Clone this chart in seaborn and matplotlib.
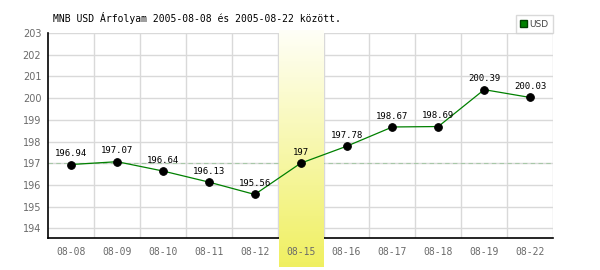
import matplotlib
matplotlib.use("Agg")
import matplotlib.pyplot as plt
import seaborn as sns
import numpy as np
import pandas as pd
from matplotlib.patches import Patch

dates = ["08-08", "08-09", "08-10", "08-11", "08-12", "08-15",
         "08-16", "08-17", "08-18", "08-19", "08-22"]
usd = [196.94, 197.07, 196.64, 196.13, 195.56, 197.0,
       197.78, 198.67, 198.69, 200.39, 200.03]
value_labels = ["196.94", "197.07", "196.64", "196.13", "195.56", "197",
                "197.78", "198.67", "198.69", "200.39", "200.03"]
yticks = [194, 195, 196, 197, 198, 199, 200, 201, 202, 203]
reference_level = 197
highlight = "08-15"
title = "MNB USD Árfolyam 2005-08-08 és 2005-08-22 között."

sns.set_style("white")
plt.rcParams['font.family'] = ['DejaVu Sans']

df = pd.DataFrame({"pos": np.arange(len(dates)), "usd": usd})

fig = plt.figure(figsize=(6, 2.7), dpi=100)
ax = fig.add_axes([48.3 / 600, 1 - 238.3 / 270, (553 - 48.3) / 600, (238.3 - 33) / 270])
ax.set_facecolor("white")

ymin, ymax = 193.54, 203.0
ax.set_xlim(-0.5, len(dates) - 0.5)
ax.set_ylim(ymin, ymax)

ax.set_axisbelow(False)
ax.set_yticks(yticks)
ax.set_xticks(np.arange(len(dates)))
ax.grid(False)
for yv in yticks:
    ax.axhline(yv, color="#d9d9d9", lw=1.0, zorder=0.5)
for xv in np.arange(len(dates)) + 0.5:
    ax.axvline(xv, color="#d9d9d9", lw=1.0, zorder=0.5)

# reference dashed line
ax.axhline(reference_level, color="#a8c8a8", lw=0.8, ls=(0, (4, 3)), zorder=1)

# highlighted band with gradient
hi = dates.index(highlight)
upp = (ymax - ymin) / 205.3  # data units per pixel
y_bot = ymin - (267 - 238.3) * upp
y_top = ymax + 3 * upp
grad = np.linspace(0, 1, 256).reshape(-1, 1)
top_c = np.array([1.0, 1.0, 0.97])
bot_c = np.array([0.94, 0.94, 0.38])
img = top_c[None, None, :] * (1 - grad[:, :, None]) + bot_c[None, None, :] * grad[:, :, None]
ax.imshow(img, extent=[hi - 0.5 + 0.02, hi + 0.5 - 0.02, y_bot, y_top], origin="upper",
          aspect="auto", zorder=1.5, clip_on=False, interpolation="bilinear")
ax.set_xlim(-0.5, len(dates) - 0.5)
ax.set_ylim(ymin, ymax)

# data line
sns.lineplot(data=df, x="pos", y="usd", ax=ax, color="#008000", lw=0.9,
             marker="o", markersize=5.5, markerfacecolor="black",
             markeredgecolor="black", zorder=3, legend=False)

for i, (v, lab) in enumerate(zip(usd, value_labels)):
    ax.annotate(lab, (i, v), xytext=(0, 4.5), textcoords="offset points",
                ha="center", va="bottom", fontsize=6.5, family="DejaVu Sans Mono",
                color="black", zorder=5)

ax.set_xlabel("")
ax.set_ylabel("")
ax.set_xticklabels(dates, family="DejaVu Sans Mono", fontsize=7, color="#6a6a6a")
ax.set_yticklabels([str(t) for t in yticks], fontsize=7, color="#6a6a6a")
ax.tick_params(axis="both", which="both", length=0)
ax.tick_params(axis="x", pad=6)
ax.tick_params(axis="y", pad=5)

for s in ["top", "right"]:
    ax.spines[s].set_visible(False)
ax.spines["left"].set_color("black")
ax.spines["left"].set_linewidth(1.2)
ax.spines["bottom"].set_color("black")
ax.spines["bottom"].set_linewidth(1.2)
ax.spines["bottom"].set_zorder(1.2)

fig.text(53 / 600, 1 - 18 / 270, title, family="DejaVu Sans Mono", fontsize=7,
         color="black", va="center", ha="left")

leg = fig.legend(handles=[Patch(facecolor="#008000", edgecolor="#004000", label="USD")],
                 loc="upper right", bbox_to_anchor=(553 / 600, 1 - 15 / 270),
                 fontsize=6.5, frameon=True, fancybox=False, handlelength=0.7,
                 handleheight=0.7, handletextpad=0.3, borderpad=0.5, borderaxespad=0)
leg.get_frame().set_edgecolor("#d0d0d0")
leg.get_frame().set_linewidth(1.0)
for t in leg.get_texts():
    t.set_color("#444444")

fig.savefig("out.png", dpi=100)
